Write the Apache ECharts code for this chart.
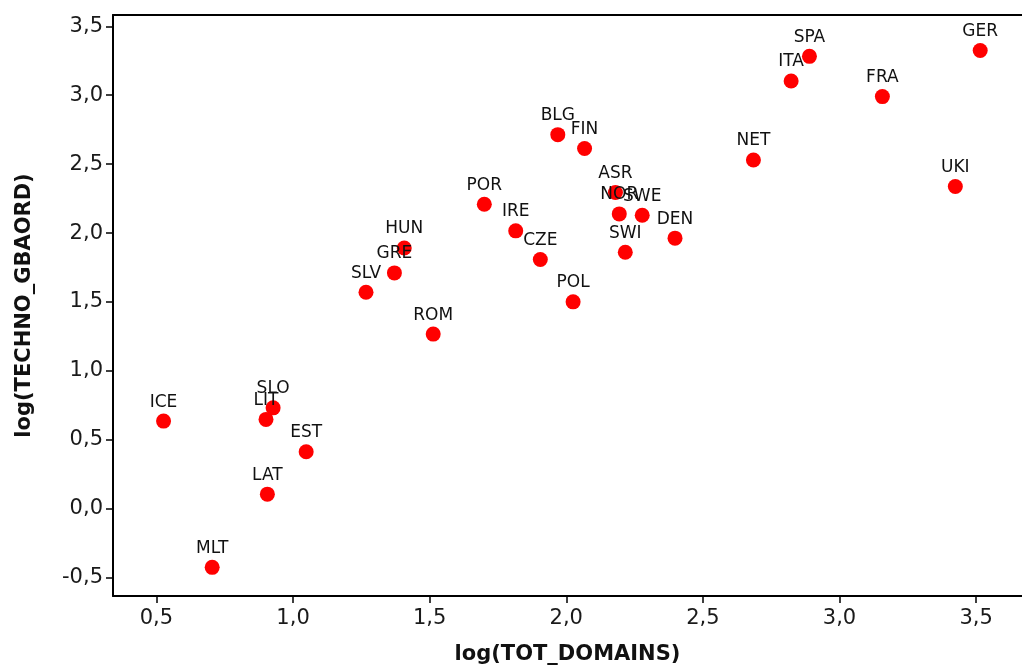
<!DOCTYPE html>
<html>
<head>
<meta charset="utf-8">
<script src="https://cdn.jsdelivr.net/npm/echarts@6/dist/echarts.min.js"></script>
<style>
  html, body { margin: 0; padding: 0; background: #fff; }
  #chart { width: 1022px; height: 670px; }
</style>
</head>
<body>
<div id="chart"></div>
<script>
// Country codes with log(TOT_DOMAINS) and log(TECHNO_GBAORD)
const countries = ['ICE','MLT','LIT','SLO','EST','LAT','SLV','GRE','HUN','ROM','POR','IRE','CZE','POL','BLG','FIN','ASR','NOR','SWE','SWI','DEN','NET','ITA','SPA','FRA','GER','UKI'];
const logDomains = [0.526,0.704,0.901,0.927,1.048,0.906,1.267,1.371,1.407,1.513,1.700,1.815,1.905,2.025,1.969,2.067,2.180,2.194,2.278,2.216,2.398,2.685,2.823,2.890,3.157,3.515,3.424];
const logTechno = [0.636,-0.425,0.648,0.732,0.413,0.106,1.571,1.711,1.892,1.267,2.209,2.016,1.808,1.501,2.714,2.613,2.294,2.139,2.129,1.861,1.963,2.530,3.103,3.282,2.990,3.324,2.338];

const xTicks = [0.5, 1.0, 1.5, 2.0, 2.5, 3.0, 3.5];
const yTicks = [-0.5, 0.0, 0.5, 1.0, 1.5, 2.0, 2.5, 3.0, 3.5];

const points = countries.map((c, i) => ({ name: c, value: [logDomains[i], logTechno[i]] }));

const fmt = v => v.toFixed(1).replace('.', ',');
const FONT = 'DejaVu Sans';
const X_MIN = 0.341, X_MAX = 3.668;

const chart = echarts.init(document.getElementById('chart'), null, { renderer: 'canvas' });
chart.setOption({
  backgroundColor: '#ffffff',
  animation: false,
  grid: { left: 113, top: 15, right: 0, bottom: 74, show: false },
  xAxis: [{
    type: 'value',
    min: X_MIN, max: X_MAX,
    name: 'log(TOT_DOMAINS)',
    nameLocation: 'middle',
    nameGap: 48,
    nameTextStyle: { fontFamily: FONT, fontWeight: 'bold', fontSize: 21, color: '#111' },
    axisLine: { show: true, onZero: false, lineStyle: { color: '#000', width: 2 } },
    axisTick: { show: true, customValues: xTicks, length: 7, lineStyle: { color: '#000', width: 1.5 } },
    axisLabel: { customValues: xTicks, formatter: fmt, fontFamily: FONT, fontSize: 21, color: '#1a1a1a', margin: 12 },
    splitLine: { show: false }
  }, {
    // plain frame line along the top edge of the plot
    type: 'value',
    position: 'top',
    min: X_MIN, max: X_MAX,
    axisLine: { show: true, onZero: false, lineStyle: { color: '#000', width: 2 } },
    axisTick: { show: false },
    axisLabel: { show: false },
    splitLine: { show: false }
  }],
  yAxis: {
    type: 'value',
    min: -0.633, max: 3.582,
    name: 'log(TECHNO_GBAORD)',
    nameLocation: 'middle',
    nameGap: 78,
    nameTextStyle: { fontFamily: FONT, fontWeight: 'bold', fontSize: 21, color: '#111' },
    axisLine: { show: true, onZero: false, lineStyle: { color: '#000', width: 2 } },
    axisTick: { show: true, customValues: yTicks, length: 7, lineStyle: { color: '#000', width: 1.5 } },
    axisLabel: { customValues: yTicks, formatter: fmt, fontFamily: FONT, fontSize: 21, color: '#1a1a1a', margin: 10 },
    splitLine: { show: false }
  },
  series: [{
    type: 'scatter',
    xAxisIndex: 0,
    data: points,
    symbol: 'circle',
    symbolSize: 15,
    itemStyle: { color: '#ff0000', opacity: 1 },
    label: {
      show: true,
      position: 'top',
      distance: 3,
      formatter: p => p.name,
      fontFamily: FONT,
      fontSize: 17,
      color: '#111'
    },
    labelLayout: { hideOverlap: false }
  }]
});
</script>
</body>
</html>
